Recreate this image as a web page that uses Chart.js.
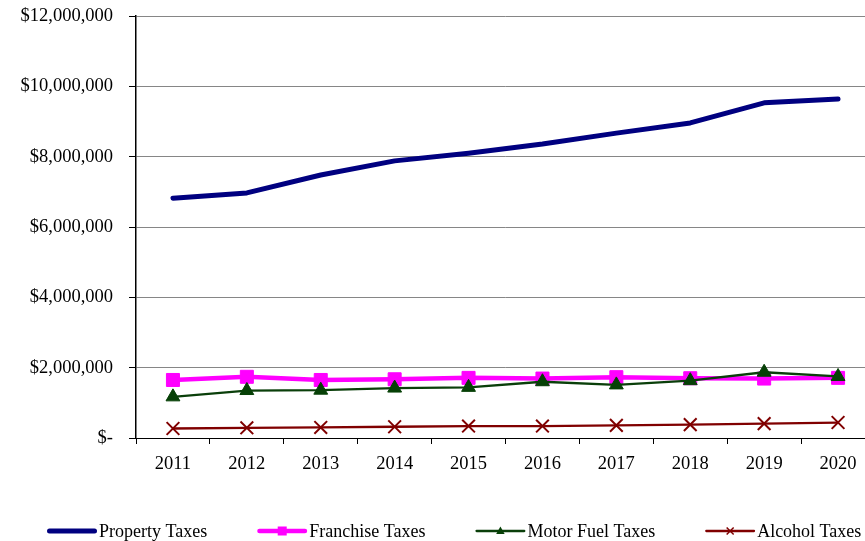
<!DOCTYPE html>
<html>
<head>
<meta charset="utf-8">
<script src="https://cdn.jsdelivr.net/npm/chart.js@4.4.1/dist/chart.umd.min.js"></script>
<style>
  html, body { margin: 0; padding: 0; background: #fff; width: 865px; height: 541px; overflow: hidden; }
  #wrap { position: absolute; left: 0; top: 0; width: 875px; height: 541px; }
</style>
</head>
<body>
<div id="wrap"><canvas id="taxChart" width="875" height="541"></canvas></div>
<script>
// Tax revenue by fiscal year
const years = ['2011', '2012', '2013', '2014', '2015', '2016', '2017', '2018', '2019', '2020'];
const propertyTaxes  = [6820000, 6970000, 7480000, 7880000, 8100000, 8360000, 8670000, 8960000, 9530000, 9640000];
const franchiseTaxes = [1650000, 1740000, 1650000, 1670000, 1710000, 1690000, 1730000, 1700000, 1690000, 1710000];
const motorFuelTaxes = [1170000, 1350000, 1360000, 1420000, 1440000, 1600000, 1510000, 1630000, 1870000, 1750000];
const alcoholTaxes   = [270000, 290000, 300000, 320000, 340000, 340000, 360000, 380000, 410000, 440000];
const yTicks = [0, 2000000, 4000000, 6000000, 8000000, 10000000, 12000000];

const FONT_FAMILY = "'Liberation Serif', 'DejaVu Serif', serif";
const TICK_SIZE = 18.5;
const LEGEND_SIZE = 18;

function money(v) {
  return v === 0 ? '$-' : '$' + v.toLocaleString('en-US');
}

// Legend drawn in one row beneath the axis: line sample, marker, label
const lineLegend = {
  id: 'lineLegend',
  afterDraw(chart, args, opts) {
    const ctx = chart.ctx;
    ctx.save();
    ctx.font = `${LEGEND_SIZE}px ${FONT_FAMILY}`;
    ctx.textBaseline = 'middle';
    ctx.textAlign = 'left';
    let x = opts.startX;
    const y = opts.y;
    chart.data.datasets.forEach(ds => {
      ctx.strokeStyle = ds.borderColor;
      ctx.lineWidth = ds.borderWidth;
      ctx.lineCap = 'round';
      ctx.beginPath();
      ctx.moveTo(x + ds.borderWidth / 2, y);
      ctx.lineTo(x + opts.lineLen - ds.borderWidth / 2, y);
      ctx.stroke();
      const cx = x + opts.lineLen / 2;
      const r = ds.legendMarker || 0;
      ctx.fillStyle = ds.pointBackgroundColor;
      ctx.strokeStyle = ds.pointBorderColor;
      if (ds.pointStyle === 'rect' && r) {
        ctx.fillRect(cx - r, y - r, 2 * r, 2 * r);
      } else if (ds.pointStyle === 'triangle' && r) {
        ctx.beginPath();
        ctx.moveTo(cx, y - r * 1.1);
        ctx.lineTo(cx + r, y + r * 0.7);
        ctx.lineTo(cx - r, y + r * 0.7);
        ctx.closePath();
        ctx.fill();
      } else if (ds.pointStyle === 'crossRot' && r) {
        ctx.lineWidth = 1.5;
        ctx.lineCap = 'butt';
        ctx.beginPath();
        ctx.moveTo(cx - r, y - r); ctx.lineTo(cx + r, y + r);
        ctx.moveTo(cx + r, y - r); ctx.lineTo(cx - r, y + r);
        ctx.stroke();
      }
      ctx.fillStyle = '#000';
      ctx.fillText(ds.label, x + opts.lineLen + opts.textGap, y + 1);
      x += opts.lineLen + opts.textGap + ctx.measureText(ds.label).width + opts.itemGap;
    });
    ctx.restore();
  }
};

new Chart(document.getElementById('taxChart'), {
  type: 'line',
  data: {
    labels: years,
    datasets: [
      {
        label: 'Property Taxes',
        data: propertyTaxes,
        borderColor: '#000080',
        backgroundColor: '#000080',
        borderWidth: 5,
        borderCapStyle: 'round',
        borderJoinStyle: 'round',
        pointRadius: 0,
        pointStyle: 'circle',
        order: 4
      },
      {
        label: 'Franchise Taxes',
        data: franchiseTaxes,
        borderColor: '#FF00FF',
        backgroundColor: '#FF00FF',
        pointBackgroundColor: '#FF00FF',
        pointBorderColor: '#FF00FF',
        borderWidth: 4.5,
        pointStyle: 'rect',
        pointRadius: 9.2,
        pointBorderWidth: 1,
        legendMarker: 4.5,
        order: 3
      },
      {
        label: 'Motor Fuel Taxes',
        data: motorFuelTaxes,
        borderColor: '#0A3F0A',
        backgroundColor: '#0A3F0A',
        pointBackgroundColor: '#064006',
        pointBorderColor: '#064006',
        borderWidth: 2.3,
        pointStyle: 'triangle',
        pointRadius: 8,
        pointBorderWidth: 1,
        legendMarker: 4.2,
        order: 2
      },
      {
        label: 'Alcohol Taxes',
        data: alcoholTaxes,
        borderColor: '#800000',
        backgroundColor: '#800000',
        pointBackgroundColor: '#800000',
        pointBorderColor: '#800000',
        borderWidth: 2.3,
        pointStyle: 'crossRot',
        pointRadius: 9,
        pointBorderWidth: 2,
        legendMarker: 3.5,
        order: 1
      }
    ]
  },
  options: {
    responsive: false,
    animation: false,
    layout: { autoPadding: false, padding: { left: 0, top: 16, right: 0, bottom: 55 } },
    plugins: {
      legend: { display: false },
      tooltip: { enabled: false },
      lineLegend: { startX: 47, y: 531, lineLen: 50, textGap: 2, itemGap: 50 }
    },
    scales: {
      x: {
        offset: true,
        grid: {
          offset: true,
          drawOnChartArea: false,
          color: '#000',
          tickLength: 6
        },
        border: { color: '#000', width: 1 },
        ticks: {
          color: '#000',
          padding: 9,
          maxRotation: 0,
          font: { family: FONT_FAMILY, size: TICK_SIZE }
        },
        afterFit(scale) { scale.height = 48; }
      },
      y: {
        min: 0,
        max: 12000000,
        afterBuildTicks(scale) { scale.ticks = yTicks.map(v => ({ value: v })); },
        grid: {
          color: '#868686',
          tickColor: '#000',
          tickLength: 7,
          lineWidth: 1
        },
        border: { color: '#000', width: 1.5 },
        ticks: {
          color: '#000',
          padding: 16,
          font: { family: FONT_FAMILY, size: TICK_SIZE },
          callback: v => money(v)
        },
        afterFit(scale) {
          scale.width = 136;
          // only half a label height is needed above and below the axis
          scale.paddingTop = 11;
          scale.paddingBottom = 11;
        }
      }
    }
  },
  plugins: [lineLegend]
});
</script>
</body>
</html>
